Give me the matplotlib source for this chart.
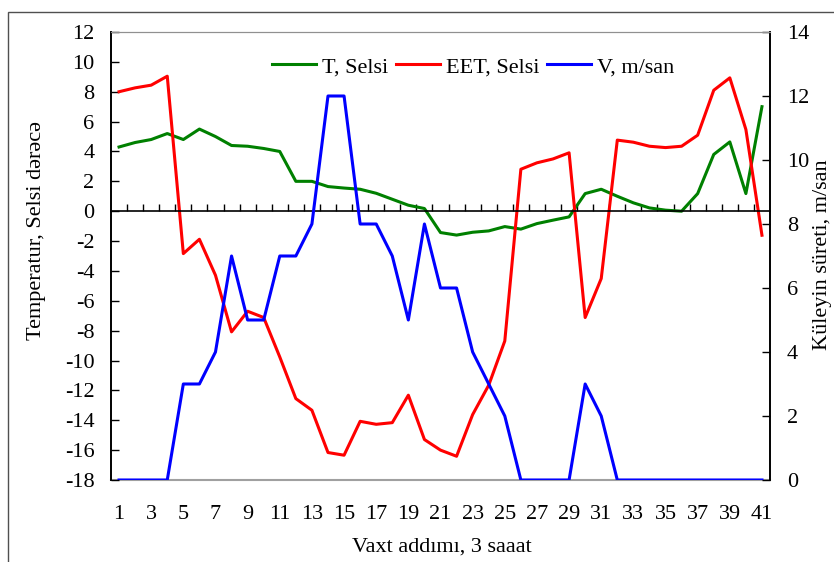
import numpy as np
import matplotlib.pyplot as plt
from matplotlib.patches import Rectangle

plt.rcParams['font.family'] = ['Liberation Serif', 'DejaVu Serif']
plt.rcParams['axes.unicode_minus'] = False

# time steps (3 hour each)
steps = np.arange(1, 42)

# air temperature, Celsius
temp = [4.3, 4.6, 4.8, 5.2, 4.8, 5.5, 5.0, 4.4, 4.35, 4.2,
        4.0, 2.0, 2.0, 1.65, 1.55, 1.47, 1.2, 0.8, 0.4, 0.18,
        -1.43, -1.6, -1.41, -1.32, -1.03, -1.2, -0.83, -0.6, -0.38, 1.18,
        1.47, 1.0, 0.56, 0.22, 0.07, 0.0, 1.18, 3.8, 4.64, 1.18,
        7.0]

# effective temperature, Celsius
eet = [8.0, 8.26, 8.44, 9.04, -2.84, -1.88, -4.29, -8.08, -6.7, -7.12,
       -9.76, -12.55, -13.33, -16.16, -16.34, -14.07, -14.27, -14.16, -12.32, -15.29,
       -16.0, -16.41, -13.62, -11.65, -8.69, 2.81, 3.24, 3.5, 3.91, -7.12,
       -4.51, 4.76, 4.62, 4.35, 4.26, 4.35, 5.09, 8.1, 8.93, 5.47,
       -1.61]

# wind speed, m/s
wind = [0, 0, 0, 0, 3, 3, 4, 7, 5, 5,
        7, 7, 8, 12, 12, 8, 8, 7, 5, 8,
        6, 6, 4, 3, 2, 0, 0, 0, 0, 3,
        2, 0, 0, 0, 0, 0, 0, 0, 0, 0,
        0]

fs = 16

fig = plt.figure(figsize=(8.34, 5.62), dpi=100)
ax = fig.add_axes([111/834, 1 - 480/562, 659/834, 448/562])
ax2 = ax.twinx()

lw = 2.2
l1, = ax.plot(steps, temp, color='green', lw=lw, label='T, Selsi')
l2, = ax.plot(steps, eet, color='red', lw=lw, label='EET, Selsi')
l3, = ax2.plot(steps, wind, color='blue', lw=lw, label='V, m/san')

ax.set_xlim(0.5, 41.5)
ax.set_ylim(-18, 12)
ax.set_yticks(np.arange(-18, 13, 2))
ax2.set_ylim(0, 14)
ax2.set_yticks(np.arange(0, 15, 2))

# x axis line through zero with small ticks between steps
ax.spines['bottom'].set_position(('data', 0))
ax.spines['bottom'].set_color('black')
ax.spines['bottom'].set_linewidth(1.2)
ax.set_xticks(np.arange(1.5, 41, 1))
ax.tick_params(axis='x', direction='in', length=5, width=1.0, labelbottom=False)

# step labels at the bottom of the plot
sec = ax.secondary_xaxis(0.0)
sec.set_xticks(steps[::2])
sec.tick_params(length=0, pad=18, labelsize=fs)
sec.spines['bottom'].set_color('#a0a0a0')
sec.spines['bottom'].set_linewidth(1.5)

for a in (ax, ax2):
    a.spines['top'].set_color('#909090')
    a.spines['left'].set_color('black')
    a.spines['right'].set_color('black')
    a.spines['left'].set_linewidth(1.2)
    a.spines['right'].set_linewidth(1.2)
ax2.spines['bottom'].set_visible(False)

ax.tick_params(axis='y', direction='in', length=6, width=1.0, pad=12, labelsize=fs)
ax2.tick_params(axis='y', direction='in', length=6, width=1.0, pad=12, labelsize=fs)

ax.legend(handles=[l1, l2, l3], loc='center', bbox_to_anchor=(0.549, 0.922),
          ncol=3, frameon=False, fontsize=fs, handlelength=2.0,
          handletextpad=0.25, columnspacing=0.35, borderpad=0)

fig.text(37/834, 1 - 230/562, 'Temperatur, Selsi dərəcə', rotation=90,
         ha='center', va='center', fontsize=fs)
fig.text(823/834, 1 - 255/562, 'Küleyin süreti, m/san', rotation=90,
         ha='center', va='center', fontsize=fs)
fig.text(442/834, 1 - 547/562, 'Vaxt addımı, 3 saaat',
         ha='center', va='center', fontsize=fs)

# outer frame
fig.patches.append(Rectangle((8/834, -0.2), 1.2, 0.2 + 1 - 12/562, fill=False,
                             edgecolor='#505050', lw=1.0,
                             transform=fig.transFigure, figure=fig))

fig.savefig('out.png', dpi=100)
